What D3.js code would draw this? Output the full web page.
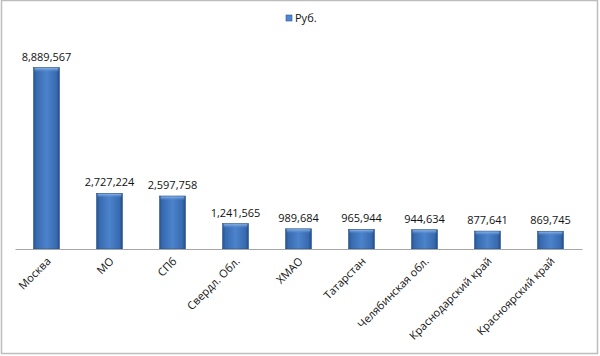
<!DOCTYPE html>
<html><head><meta charset="utf-8">
<script src="https://cdn.jsdelivr.net/npm/d3@7"></script>
<style>body{margin:0;background:#fff}svg{display:block}</style>
</head><body>
<script>
const categories = ["Москва","МО","СПб","Свердл. Обл.","ХМАО","Татарстан","Челябинская обл.","Краснодарский край","Красноярский край"];
const values = [8889567,2727224,2597758,1241565,989684,965944,944634,877641,869745];
const seriesName = "Руб.";

const W=600,H=356;
const svg=d3.select("body").append("svg").attr("width",W).attr("height",H);
const font="'Open Sans', 'Noto Sans', sans-serif";

svg.append("rect").attr("x",1.5).attr("y",0.5).attr("width",W-4).attr("height",H-3)
  .attr("fill","#fff").attr("stroke","#bdbdbd").attr("stroke-width",1.5);

const defs=svg.append("defs");
const g1=defs.append("linearGradient").attr("id","bargrad").attr("x1","0").attr("x2","1").attr("y1","0").attr("y2","0");
[[0,"#27558f"],[0.12,"#386bb0"],[0.5,"#4c83cb"],[0.88,"#386bb0"],[1,"#234d86"]].forEach(([o,c])=>g1.append("stop").attr("offset",o).attr("stop-color",c));
const g2=defs.append("linearGradient").attr("id","topgrad").attr("x1","0").attr("x2","0").attr("y1","0").attr("y2","1");
[[0,"#8fb4e6"],[1,"rgba(79,135,207,0)"]].forEach(([o,c])=>g2.append("stop").attr("offset",o).attr("stop-color",c));

const x=d3.scaleBand().domain(categories).range([15,582]).paddingInner(0.59).paddingOuter(0.295);
const y=d3.scaleLinear().domain([0,10000000]).range([249,45]);

const bars=svg.append("g");
categories.forEach((c,i)=>{
  const bx=x(c),by=y(values[i]),bw=x.bandwidth(),bh=y(0)-y(values[i]);
  bars.append("rect").attr("x",bx).attr("y",by).attr("width",bw).attr("height",bh)
    .attr("fill","url(#bargrad)").attr("stroke","#244f88").attr("stroke-width",0.6);
  bars.append("rect").attr("x",bx+1).attr("y",by+0.5).attr("width",bw-2).attr("height",Math.min(4,bh))
    .attr("fill","url(#topgrad)");
  svg.append("text").attr("x",bx+bw/2).attr("y",by-7).attr("text-anchor","middle")
    .attr("font-family",font).attr("font-size",11).attr("fill","#111")
    .text(d3.format(",")(values[i]));
});

const xAxis=d3.axisBottom(x).tickSize(0).tickPadding(0);
const ax=svg.append("g").attr("transform","translate(0,249)").call(xAxis);
ax.select(".domain").attr("stroke","#a6a6a6").attr("stroke-width",1.2);
ax.selectAll("text").attr("font-family",font).attr("font-size",11).attr("fill","#111")
  .attr("text-anchor","end").attr("dy",0).attr("y",0)
  .attr("transform","translate(5,13) rotate(-45)");

const lg=svg.append("g");
lg.append("rect").attr("x",286).attr("y",15).attr("width",6).attr("height",6).attr("fill","#4f87cf").attr("stroke","#2a5a97").attr("stroke-width",0.6);
lg.append("text").attr("x",295).attr("y",22).attr("font-family",font).attr("font-size",11).attr("fill","#111").text(seriesName);
</script>
</body></html>
